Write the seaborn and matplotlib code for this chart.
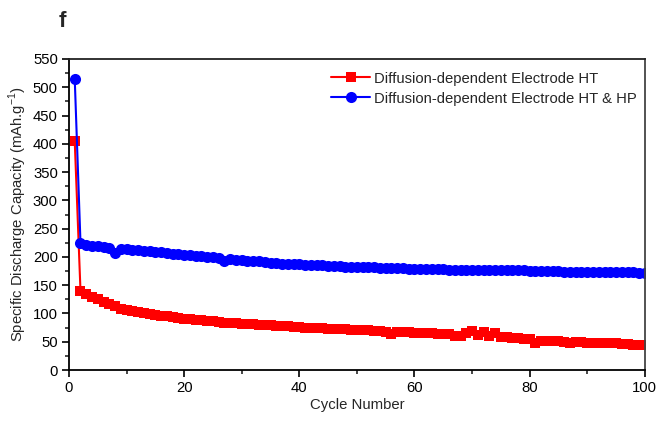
import numpy as np
import pandas as pd
import matplotlib
matplotlib.use("Agg")
import matplotlib.pyplot as plt
from matplotlib.ticker import MultipleLocator
import seaborn as sns

cycles = list(range(1, 101))

capacity_ht = [
    405, 140, 134, 129, 125, 121, 117, 113, 108, 106,
    105, 103, 101, 99, 97, 96, 95, 93, 92, 91,
    90, 89, 88, 87, 86, 85, 84, 84, 83, 82,
    82, 81, 80, 80, 79, 78, 78, 77, 76, 76,
    75, 75, 74, 74, 73, 73, 72, 72, 71, 71,
    70, 70, 69, 69, 68, 64, 67, 67, 67, 66,
    66, 65, 65, 64, 64, 63, 61, 61, 65, 69,
    62, 68, 60, 66, 59, 58, 57, 56, 55, 54,
    47, 52, 52, 51, 51, 50, 47, 49, 49, 48,
    48, 48, 47, 47, 47, 46, 46, 45, 45, 45,
]

capacity_ht_hp = [
    515, 225, 221, 220, 219, 218, 215, 207, 214, 214,
    213, 212, 211, 210, 209, 208, 207, 206, 205, 204,
    203, 202, 201, 200, 199, 198, 192, 196, 195, 194,
    193, 193, 192, 191, 190, 189, 188, 188, 187, 187,
    186, 186, 185, 185, 184, 184, 184, 183, 183, 183,
    182, 182, 182, 181, 181, 180, 180, 180, 179, 179,
    179, 178, 178, 178, 178, 177, 177, 177, 177, 177,
    177, 177, 177, 177, 177, 176, 176, 176, 176, 175,
    175, 175, 175, 175, 175, 174, 174, 174, 174, 174,
    174, 174, 173, 173, 173, 173, 173, 173, 172, 172,
]

label_ht = "Diffusion-dependent Electrode HT"
label_ht_hp = "Diffusion-dependent Electrode HT & HP"

sns.set_theme(style="ticks")
plt.rcParams["font.family"] = ["Liberation Sans", "DejaVu Sans"]
plt.rcParams["mathtext.fontset"] = "custom"
plt.rcParams["mathtext.rm"] = "Liberation Sans"

df = pd.DataFrame({"cycle": cycles, "ht": capacity_ht, "ht_hp": capacity_ht_hp})

fig = plt.figure(figsize=(6.6, 4.22), dpi=100)
ax = fig.add_axes([0.1045, 0.1232, 0.8725, 0.737])

sns.lineplot(data=df, x="cycle", y="ht", ax=ax, color="#ff0000", marker="s",
             markersize=7.2, markeredgewidth=0, linewidth=1.5, label=label_ht)
sns.lineplot(data=df, x="cycle", y="ht_hp", ax=ax, color="#0000ff", marker="o",
             markersize=8, markeredgewidth=0, linewidth=1.5, label=label_ht_hp)

ax.set_xlim(0, 100)
ax.set_ylim(0, 550)
ax.xaxis.set_major_locator(MultipleLocator(20))
ax.xaxis.set_minor_locator(MultipleLocator(10))
ax.yaxis.set_major_locator(MultipleLocator(50))
ax.yaxis.set_minor_locator(MultipleLocator(25))
ax.tick_params(axis="both", which="major", direction="out", length=5, width=1.2,
               labelsize=10.7, colors="black", top=False, right=False, pad=3)
ax.tick_params(axis="both", which="minor", direction="out", length=3, width=1.2,
               top=False, right=False)

for side in ["left", "bottom", "top", "right"]:
    ax.spines[side].set_visible(True)
    ax.spines[side].set_linewidth(1.3)
    ax.spines[side].set_color("black")
ax.spines["top"].set_color("#222222")
ax.spines["right"].set_color("#444444")

ax.set_xlabel("Cycle Number", fontsize=10.7, labelpad=2)
ax.set_ylabel("Specific Discharge Capacity (mAh.g$^{-1}$)", fontsize=10.7, labelpad=3)

ax.legend(loc="upper right", frameon=False, fontsize=10.7, handlelength=2.6,
          handletextpad=0.3, borderaxespad=0.35, labelspacing=0.4,
          bbox_to_anchor=(1.006, 0.995))

fig.text(0.095, 0.950, "f", fontsize=16, fontweight="bold", ha="center", va="center")

fig.savefig("out.png", dpi=100)
